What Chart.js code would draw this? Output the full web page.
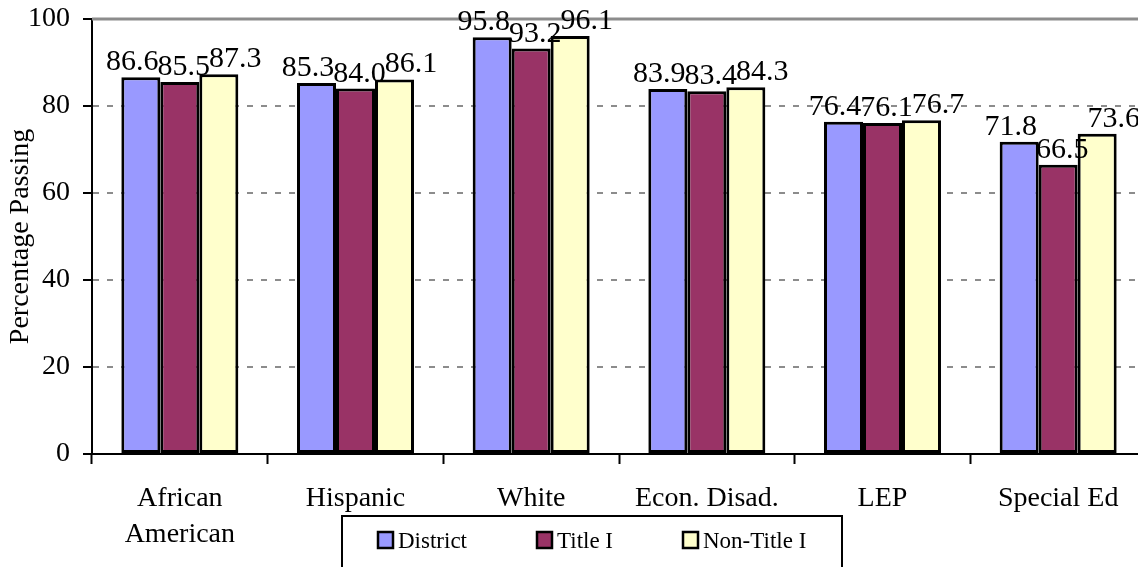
<!DOCTYPE html>
<html>
<head>
<meta charset="utf-8">
<script src="https://cdn.jsdelivr.net/npm/chart.js@4/dist/chart.umd.min.js"></script>
<style>
  html, body { margin: 0; padding: 0; background: #fff; overflow: hidden; }
  #wrap { width: 1148px; height: 567px; }
</style>
</head>
<body>
<div id="wrap"><canvas id="c" width="1148" height="567"></canvas></div>
<script>
const categories = [["African", "American"], "Hispanic", "White", "Econ. Disad.", "LEP", "Special Ed"];
const seriesNames = ["District", "Title I", "Non-Title I"];
const district = [86.6, 85.3, 95.8, 83.9, 76.4, 71.8];
const titleI = [85.5, 84.0, 93.2, 83.4, 76.1, 66.5];
const nonTitleI = [87.3, 86.1, 96.1, 84.3, 76.7, 73.6];
const yTicks = [0, 20, 40, 60, 80, 100];
const seriesColors = ["#9999FF", "#993366", "#FFFFCC"];

const FONT = "'Liberation Serif', 'Times New Roman', serif";

// Value labels: within each category the three labels sit side by side,
// the row being centred on the category (as in the source chart).
const valueLabels = {
  id: 'valueLabels',
  afterDatasetsDraw(chart) {
    const ctx = chart.ctx;
    ctx.save();
    ctx.font = "30px " + FONT;
    ctx.fillStyle = "#000";
    ctx.textAlign = "left";
    ctx.textBaseline = "alphabetic";
    const xScale = chart.scales.x;
    const nSets = chart.data.datasets.length;
    chart.data.labels.forEach((_, j) => {
      const texts = [], widths = [], els = [];
      for (let i = 0; i < nSets; i++) {
        const t = Number(chart.data.datasets[i].data[j]).toFixed(1);
        texts.push(t);
        widths.push(ctx.measureText(t).width);
        els.push(chart.getDatasetMeta(i).data[j]);
      }
      const gap = -1;
      const total = widths.reduce((a, b) => a + b, 0) + gap * (nSets - 1);
      let x = xScale.getPixelForValue(j) - total / 2 + 4;
      for (let i = 0; i < nSets; i++) {
        ctx.fillText(texts[i], x, els[i].y - 7);
        x += widths[i] + gap;
      }
    });
    ctx.restore();
  }
};

const topLine = {
  id: 'topLine',
  beforeDatasetsDraw(chart) {
    const ctx = chart.ctx;
    const y = chart.scales.y.getPixelForValue(100);
    ctx.save();
    ctx.strokeStyle = "#8c8c8c";
    ctx.lineWidth = 3;
    ctx.beginPath();
    ctx.moveTo(chart.chartArea.left, y);
    ctx.lineTo(chart.chartArea.right, y);
    ctx.stroke();
    ctx.restore();
  }
};

const boxLegend = {
  id: 'boxLegend',
  afterDraw(chart) {
    const ctx = chart.ctx;
    ctx.save();
    ctx.lineWidth = 2;
    ctx.strokeStyle = "#000";
    ctx.strokeRect(342, 516, 500, 70);
    const swX = [378, 537, 683];
    ctx.font = "23px " + FONT;
    ctx.textBaseline = "alphabetic";
    ctx.textAlign = "left";
    seriesNames.forEach((name, i) => {
      ctx.fillStyle = seriesColors[i];
      ctx.fillRect(swX[i], 532, 15, 16);
      ctx.strokeStyle = "#000";
      ctx.lineWidth = 2.5;
      ctx.strokeRect(swX[i], 532, 15, 16);
      ctx.fillStyle = "#000";
      ctx.fillText(name, swX[i] + 20, 548);
    });
    ctx.restore();
  }
};

new Chart(document.getElementById('c'), {
  type: 'bar',
  data: {
    labels: categories,
    datasets: [
      { label: seriesNames[0], data: district, backgroundColor: seriesColors[0] },
      { label: seriesNames[1], data: titleI, backgroundColor: seriesColors[1] },
      { label: seriesNames[2], data: nonTitleI, backgroundColor: seriesColors[2] }
    ].map(d => Object.assign(d, {
      borderColor: "#000",
      borderWidth: 3,
      borderSkipped: false,
      categoryPercentage: 0.666,
      barPercentage: 1.0
    }))
  },
  options: {
    responsive: false,
    animation: false,
    devicePixelRatio: 1,
    layout: { padding: { top: 19, right: 2, left: 0, bottom: 0 } },
    plugins: {
      legend: { display: false },
      tooltip: { enabled: false }
    },
    scales: {
      x: {
        afterFit(scale) { scale.height = 113; scale.paddingLeft = 0; scale.paddingRight = 0; },
        grid: {
          offset: true,
          drawOnChartArea: false,
          tickLength: 10,
          tickColor: "#000",
          tickWidth: 2
        },
        border: { color: "#000", width: 2 },
        ticks: {
          color: "#000",
          padding: 17,
          maxRotation: 0,
          autoSkip: false,
          font: { family: FONT, size: 28, lineHeight: 1.28 }
        }
      },
      y: {
        min: 0,
        max: 100,
        afterFit(scale) { scale.width = 92; scale.paddingTop = 0; scale.paddingBottom = 0; },
        afterBuildTicks(scale) { scale.ticks = yTicks.map(v => ({ value: v })); },
        grid: {
          color: (ctx) => (ctx.tick && (ctx.tick.value === 0 || ctx.tick.value === 100)) ? "rgba(0,0,0,0)" : "#8c8c8c",
          lineWidth: 2,
          tickLength: 9,
          tickColor: "#000",
          tickWidth: 2,
          tickBorderDash: []
        },
        border: { color: "#000", width: 2, dash: [6, 8] },
        ticks: {
          color: "#000",
          padding: 13,
          font: { family: FONT, size: 28 }
        },
        title: {
          display: true,
          text: "Percentage Passing",
          color: "#000",
          padding: { top: 4, bottom: 0 },
          font: { family: FONT, size: 28, weight: 'normal' }
        }
      }
    }
  },
  plugins: [topLine, valueLabels, boxLegend]
});
</script>
</body>
</html>
